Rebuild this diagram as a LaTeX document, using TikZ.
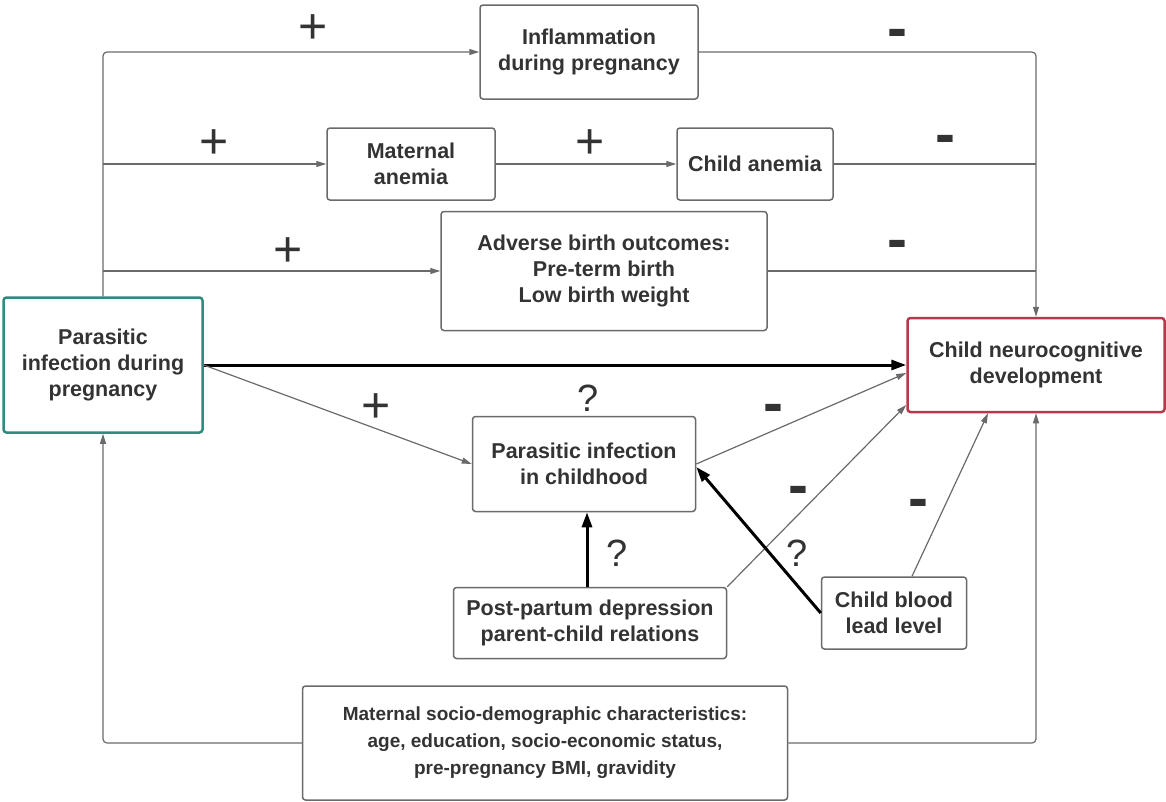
\documentclass[tikz,border=0pt]{standalone}
\usepackage{fontspec}
\setmainfont{Liberation Sans}
\usetikzlibrary{arrows.meta}
\definecolor{txtA}{HTML}{333333}
\definecolor{lineA}{HTML}{6A6A6A}
\definecolor{tealA}{HTML}{2E8B7E}
\definecolor{redA}{HTML}{B23A4A}
\tikzset{%
  tipA/.tip={Triangle[length=10pt,width=6pt]},
  tipB/.tip={Triangle[length=15pt,width=10pt]},
  boxA/.style={draw=lineA, line width=1.5pt, rounded corners=3pt, align=center,
    text=txtA, inner sep=2pt, font=\bfseries\fontsize{21.5}{26}\selectfont},
  lnA/.style={draw=lineA, line width=1.2pt},
  lnB/.style={draw=black, line width=3pt, -tipB},
  sgnA/.style={text=txtA, inner sep=0pt, font=\fontsize{50}{50}\selectfont},
  sgnB/.style={text=txtA, inner sep=0pt, font=\bfseries\fontsize{60}{60}\selectfont},
  qmA/.style={text=txtA, inner sep=0pt, font=\fontsize{38}{38}\selectfont}
}

\begin{document}
\begin{tikzpicture}[x=1pt,y=-1pt]
\useasboundingbox (0,0) rectangle (1166,801);

\node[boxA, minimum width=218pt, minimum height=94pt] (infl) at (589,52) {Inflammation\\during pregnancy};
\node[boxA, minimum width=168pt, minimum height=72pt] (manem) at (411,164) {Maternal\\anemia};
\node[boxA, minimum width=156pt, minimum height=72pt] (canem) at (755,164) {Child anemia};
\node[boxA, minimum width=326pt, minimum height=119pt] (birth) at (604,271) {Adverse birth outcomes:\\Pre-term birth\\Low birth weight};
\node[boxA, draw=tealA, line width=2.5pt, minimum width=199pt, minimum height=135pt] (pinf) at (103,365) {Parasitic\\infection during\\pregnancy};
\node[boxA, draw=redA, line width=2.5pt, minimum width=257pt, minimum height=94pt] (neuro) at (1036,365) {Child neurocognitive\\development};
\node[boxA, minimum width=223pt, minimum height=95pt] (cinf) at (584,464) {Parasitic infection\\in childhood};
\node[boxA, minimum width=273pt, minimum height=71pt] (ppd) at (590,623) {Post-partum depression\\parent-child relations};
\node[boxA, minimum width=145pt, minimum height=72pt] (lead) at (894,613) {Child blood\\lead level};
\node[boxA, minimum width=485pt, minimum height=114pt, font=\bfseries\fontsize{19}{27}\selectfont] (socio) at (545,743) {Maternal socio-demographic characteristics:\\age, education, socio-economic status,\\pre-pregnancy BMI, gravidity};

\draw[lnA, rounded corners=4pt, -tipA] (pinf.north) |- (infl.west);
\draw[lnA, -tipA] (pinf.north |- manem.west) -- (manem.west);
\draw[lnA, -tipA] (pinf.north |- birth.west) -- (birth.west);
\draw[lnA, -tipA] (manem) -- (canem);
\draw[lnA, rounded corners=4pt, -tipA] (infl.east) -| (neuro.north);
\draw[lnA] (canem.east) -- (canem.east -| neuro.north);
\draw[lnA] (birth.east) -- (birth.east -| neuro.north);
\draw[lnA, rounded corners=4pt, -tipA] (socio.west) -| (pinf.south);
\draw[lnA, rounded corners=4pt, -tipA] (socio.east) -| (neuro.south);

\draw[lnB] (pinf.east) -- (neuro.west);
\draw[lnA, -tipA] (pinf.east) -- (cinf.west);
\draw[lnA, -tipA] (cinf.east) -- ([yshift=-8pt]neuro.west);
\draw[lnA, -tipA] (ppd.north east) -- ([yshift=-40pt]neuro.west);
\draw[lnA, -tipA] ([xshift=18pt]lead.north) -- ([xshift=-48pt]neuro.south);
\draw[lnB] ([xshift=-3pt]ppd.north) -- ([xshift=3pt]cinf.south);
\draw[lnB] (lead.west) -- ([yshift=-3pt]cinf.east);

\node[sgnA] (p1) at (313,29) {+};
\node[sgnB] (m1) at (897,39) {-};
\node[sgnA] (p2) at (214,144) {+};
\node[sgnA] (p3) at (590,144) {+};
\node[sgnB] (m2) at (945,145) {-};
\node[sgnA] (p4) at (288,252) {+};
\node[sgnB] (m3) at (897,250) {-};
\node[qmA] (q1) at (588,398) {?};
\node[sgnA] (p5) at (376,408) {+};
\node[sgnB] (m4) at (773,414) {-};
\node[sgnB] (m5) at (798,496) {-};
\node[qmA] (q2) at (617,553) {?};
\node[qmA] (q3) at (797,553) {?};
\node[sgnB] (m6) at (918,509) {-};
\end{tikzpicture}
\end{document}
